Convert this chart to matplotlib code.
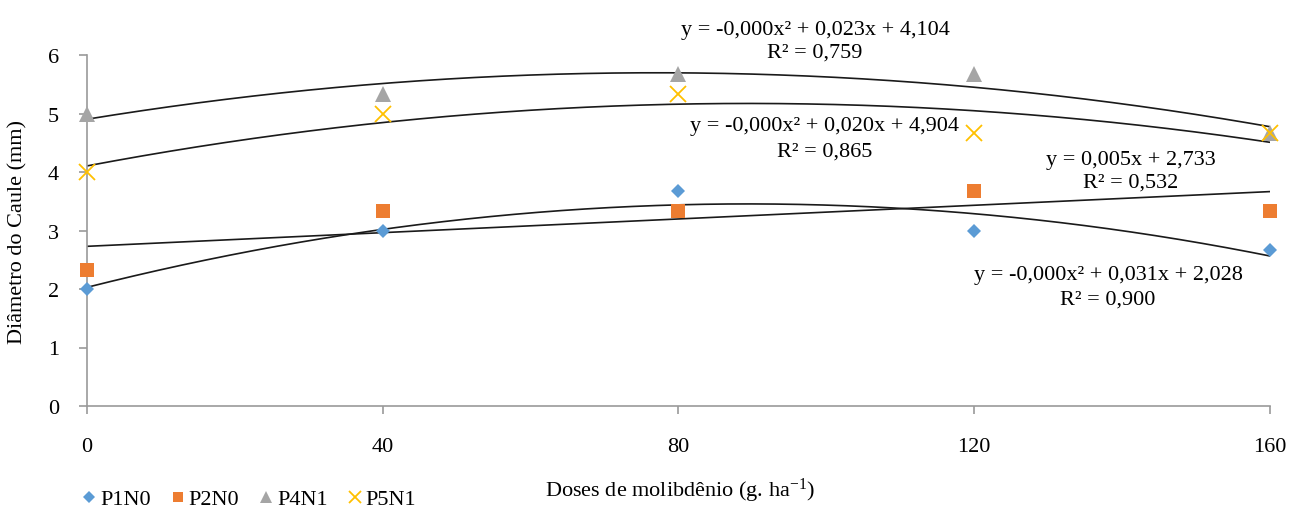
import numpy as np
import matplotlib
matplotlib.use("Agg")
import matplotlib.pyplot as plt
from matplotlib.lines import Line2D

plt.rcParams['font.family'] = ['Liberation Serif', 'DejaVu Serif']
plt.rcParams['mathtext.fontset'] = 'custom'
plt.rcParams['mathtext.rm'] = 'Liberation Serif'

doses = [0, 40, 80, 120, 160]
p1n0 = [2.0, 3.0, 3.67, 3.0, 2.67]
p2n0 = [2.33, 3.33, 3.33, 3.67, 3.33]
p4n1 = [5.0, 5.33, 5.67, 5.67, 4.67]
p5n1 = [4.0, 5.0, 5.33, 4.67, 4.67]
series_names = ["P1N0", "P2N0", "P4N1", "P5N1"]

FS = 16
fig = plt.figure(figsize=(12.9, 5.1), dpi=100)
ax = fig.add_axes([0.0674, 0.202, 0.9171, 0.688])

colors = ["#5B9BD5", "#ED7D31", "#A5A5A5", "#FFC000"]
markers = ["D", "s", "^", "x"]
sizes = [7.5, 10.5, 11, 12]
series = [p1n0, p2n0, p4n1, p5n1]
degrees = [2, 1, 2, 2]

xs = np.linspace(0, 160, 300)
for ys, deg in zip(series, degrees):
    coef = np.polyfit(doses, ys, deg)
    ax.plot(xs, np.polyval(coef, xs), color="#1a1a1a", lw=1.2, zorder=2)

handles = []
for ys, c, m, s, name in zip(series, colors, markers, sizes, series_names):
    kw = dict(markeredgewidth=1.3) if m == "x" else dict(markeredgewidth=0)
    ax.plot(doses, ys, linestyle="none", marker=m, color=c, markersize=s, zorder=3,
            clip_on=False, **kw)
    handles.append(Line2D([], [], linestyle="none", marker=m, color=c,
                          markersize=s * 0.75, label=name, **kw))

ax.set_xlim(0, 160)
ax.set_ylim(0, 6)
ax.set_xticks(doses)
ax.set_yticks(range(0, 7))
for sp in ["top", "right"]:
    ax.spines[sp].set_visible(False)
for sp in ["left", "bottom"]:
    ax.spines[sp].set_color("#9a9a9a")
    ax.spines[sp].set_linewidth(1.2)
ax.tick_params(axis="both", colors="#9a9a9a", length=6, width=1.2, labelsize=FS,
               labelcolor="black", direction="out")
ax.tick_params(axis="x", pad=16)
ax.tick_params(axis="y", pad=14)

ax.set_ylabel("Diâmetro do Caule (mm)", fontsize=FS)
ax.yaxis.set_label_coords(-0.05, 0.5)
fig.text(0.527, 0.037, r"Doses de molibdênio (g. ha$\mathregular{^{-1}}$)", fontsize=FS,
         ha="center", va="center")

ann = [
    (815, 30, "y = -0,000x² + 0,023x + 4,104", 53, "R² = 0,759"),
    (825, 127, "y = -0,000x² + 0,020x + 4,904", 152, "R² = 0,865"),
    (1131, 160, "y = 0,005x + 2,733", 183, "R² = 0,532"),
    (1108, 276, "y = -0,000x² + 0,031x + 2,028", 300, "R² = 0,900"),
]
for x, y1, t1, y2, t2 in ann:
    fig.text(x / 1290, 1 - y1 / 510, t1, fontsize=FS, ha="center", va="center")
    fig.text(x / 1290, 1 - y2 / 510, t2, fontsize=FS, ha="center", va="center")

fig.legend(handles=handles, loc="lower left", bbox_to_anchor=(0.046, -0.04), ncol=4,
           frameon=False, fontsize=FS, handletextpad=0.05, columnspacing=0.75,
           handlelength=0.9)

fig.savefig("out.png", dpi=100)
